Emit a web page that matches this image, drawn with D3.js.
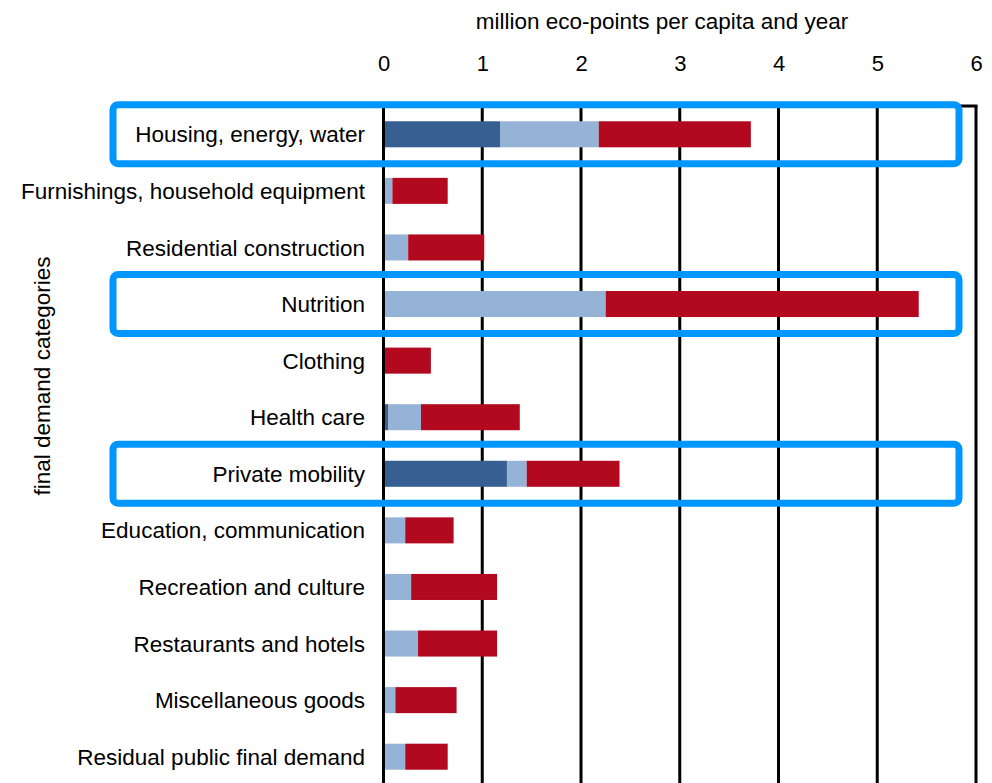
<!DOCTYPE html>
<html>
<head>
<meta charset="utf-8">
<script src="https://cdn.jsdelivr.net/npm/d3@7"></script>
<style>
    body { margin: 0; background: #fff; }
    text { font-family: "Liberation Sans", Arial, sans-serif; fill: #000; }
</style>
</head>
<body>
<div id="chart"></div>
<script>
// final demand categories, top to bottom
const categories = [
    'Housing, energy, water',
    'Furnishings, household equipment',
    'Residential construction',
    'Nutrition',
    'Clothing',
    'Health care',
    'Private mobility',
    'Education, communication',
    'Recreation and culture',
    'Restaurants and hotels',
    'Miscellaneous goods',
    'Residual public final demand'
];
// the three stacked parts of each bar (million eco-points per capita and year)
const darkPart  = [1.18, 0,    0,    0,    0,    0.05, 1.25, 0,    0,    0,    0,    0];
const lightPart = [1.00, 0.09, 0.25, 2.25, 0,    0.33, 0.20, 0.22, 0.28, 0.35, 0.12, 0.22];
const redPart   = [1.54, 0.56, 0.77, 3.17, 0.48, 1.00, 0.94, 0.49, 0.87, 0.80, 0.62, 0.43];
const xTicks = [0, 1, 2, 3, 4, 5, 6];
// rows that get the blue highlight frame
const highlighted = ['Housing, energy, water', 'Nutrition', 'Private mobility'];

const keys = ['dark', 'light', 'red'];
const colors = { dark: '#376092', light: '#95b3d7', red: '#b2091e' };

const rows = categories.map((c, i) => ({
    category: c, dark: darkPart[i], light: lightPart[i], red: redPart[i]
}));

const width = 992, height = 783;
const plot = { left: 383.5, right: 976, top: 106, bottom: 785 };

const svg = d3.select('#chart').append('svg')
    .attr('width', width)
    .attr('height', height);

const x = d3.scaleLinear()
    .domain([0, 6])
    .range([plot.left, plot.right]);

const y = d3.scaleBand()
    .domain(categories)
    .range([plot.top, plot.bottom])
    .paddingInner(0.54)
    .paddingOuter(0.27);

// vertical grid lines
svg.append('g')
    .selectAll('line')
    .data(xTicks.slice(1))
    .join('line')
    .attr('x1', d => x(d)).attr('x2', d => x(d))
    .attr('y1', plot.top).attr('y2', plot.bottom)
    .attr('stroke', '#000')
    .attr('stroke-width', 3);

// top border of the plot area
svg.append('line')
    .attr('x1', x(0)).attr('x2', x(6) + 1.5)
    .attr('y1', plot.top).attr('y2', plot.top)
    .attr('stroke', '#000')
    .attr('stroke-width', 3);

// stacked bars
const stacked = d3.stack().keys(keys)(rows);
svg.append('g')
    .selectAll('g')
    .data(stacked)
    .join('g')
    .attr('fill', d => colors[d.key])
    .selectAll('rect')
    .data(d => d)
    .join('rect')
    .attr('x', d => x(d[0]))
    .attr('y', d => y(d.data.category))
    .attr('width', d => x(d[1]) - x(d[0]))
    .attr('height', y.bandwidth());

// zero line drawn over the bar starts
svg.append('line')
    .attr('x1', x(0)).attr('x2', x(0))
    .attr('y1', plot.top).attr('y2', plot.bottom)
    .attr('stroke', '#000')
    .attr('stroke-width', 3);

// x axis on top
const xAxis = d3.axisTop(x)
    .tickValues(xTicks)
    .tickFormat(d3.format('d'))
    .tickSize(0)
    .tickPadding(35);
svg.append('g')
    .attr('transform', `translate(0,${plot.top})`)
    .call(xAxis)
    .call(g => g.select('.domain').remove())
    .call(g => g.selectAll('text')
        .attr('font-size', '22px')
        .attr('font-family', '"Liberation Sans", Arial, sans-serif')
        .attr('fill', '#000'));

// category labels
svg.append('g')
    .selectAll('text')
    .data(categories)
    .join('text')
    .attr('x', 365)
    .attr('y', d => y(d) + y.bandwidth() / 2)
    .attr('dy', '0.36em')
    .attr('text-anchor', 'end')
    .attr('font-size', '22.5px')
    .text(d => d);

// axis titles
svg.append('text')
    .attr('x', 662)
    .attr('y', 29)
    .attr('text-anchor', 'middle')
    .attr('font-size', '22.5px')
    .text('million eco-points per capita and year');

svg.append('text')
    .attr('transform', 'translate(50,376) rotate(-90)')
    .attr('text-anchor', 'middle')
    .attr('font-size', '22.5px')
    .text('final demand categories');

// blue highlight frames
svg.append('g')
    .selectAll('rect')
    .data(highlighted)
    .join('rect')
    .attr('x', 113)
    .attr('y', d => y(d) + y.bandwidth() / 2 - 29.5)
    .attr('width', 959 - 113)
    .attr('height', 59)
    .attr('rx', 5)
    .attr('fill', 'none')
    .attr('stroke', '#0096ff')
    .attr('stroke-width', 7);
</script>
</body>
</html>
